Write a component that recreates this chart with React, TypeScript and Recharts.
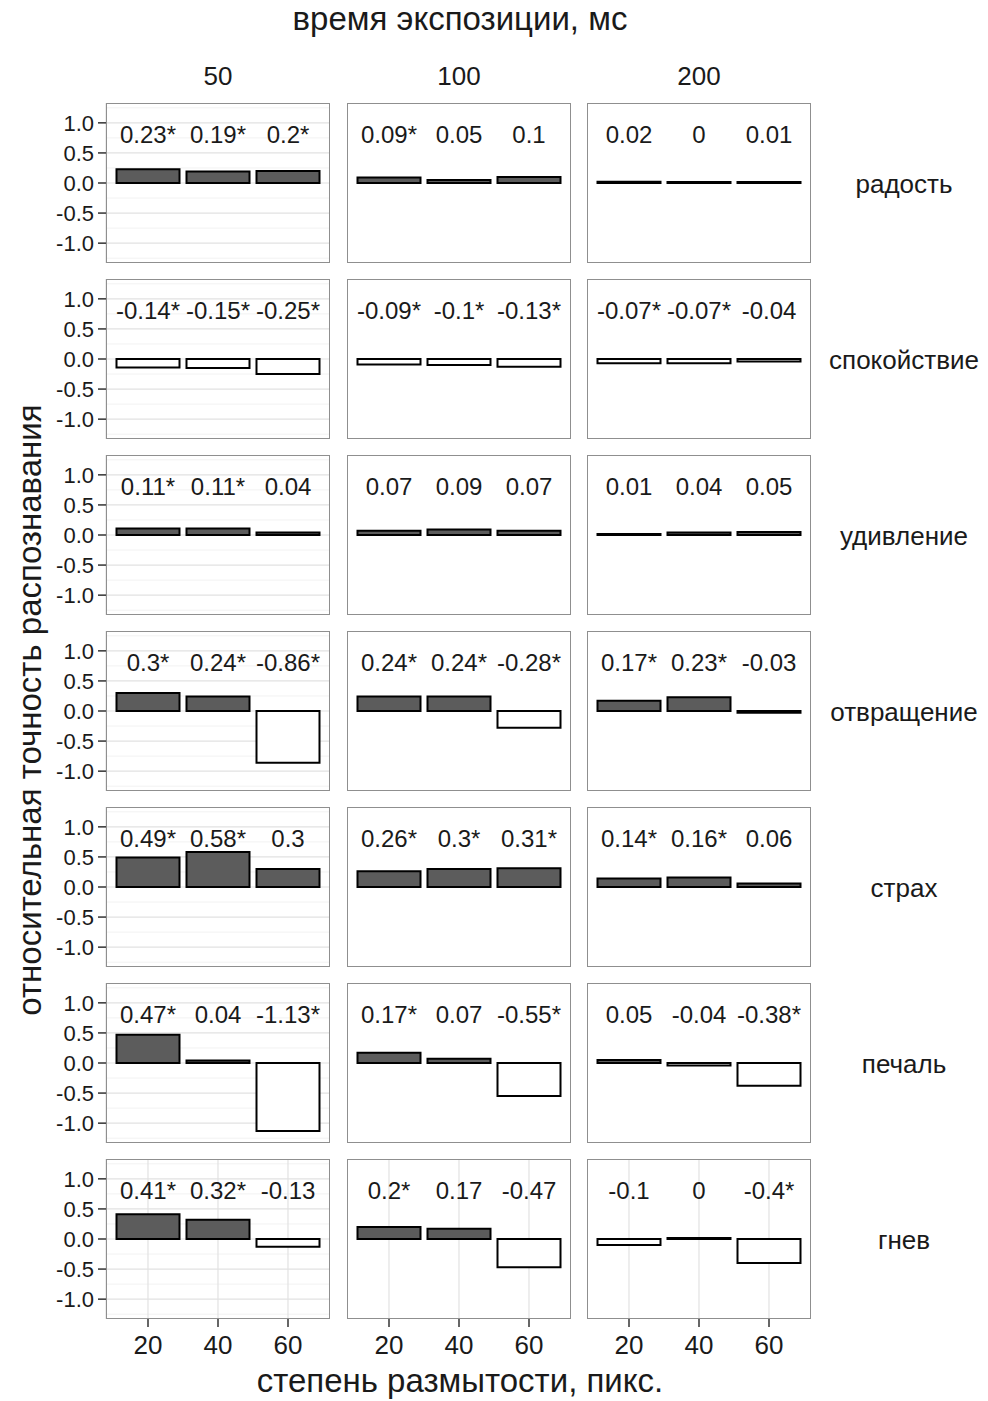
import React from "react";
import { BarChart, Bar, XAxis, YAxis, CartesianGrid, Cell, LabelList } from "recharts";

const emotions = ["радость", "спокойствие", "удивление", "отвращение", "страх", "печаль", "гнев"];
const exposures = ["50", "100", "200"];
const blurLevels = ["20", "40", "60"];

// each emotion: rows = exposure 50 / 100 / 200, cols = blur 20 / 40 / 60
const joy = [[0.23, 0.19, 0.2], [0.09, 0.05, 0.1], [0.02, 0, 0.01]];
const joySig = [[1, 1, 1], [1, 0, 0], [0, 0, 0]];
const calm = [[-0.14, -0.15, -0.25], [-0.09, -0.1, -0.13], [-0.07, -0.07, -0.04]];
const calmSig = [[1, 1, 1], [1, 1, 1], [1, 1, 0]];
const surprise = [[0.11, 0.11, 0.04], [0.07, 0.09, 0.07], [0.01, 0.04, 0.05]];
const surpriseSig = [[1, 1, 0], [0, 0, 0], [0, 0, 0]];
const disgust = [[0.3, 0.24, -0.86], [0.24, 0.24, -0.28], [0.17, 0.23, -0.03]];
const disgustSig = [[1, 1, 1], [1, 1, 1], [1, 1, 0]];
const fear = [[0.49, 0.58, 0.3], [0.26, 0.3, 0.31], [0.14, 0.16, 0.06]];
const fearSig = [[1, 1, 0], [1, 1, 1], [1, 1, 0]];
const sadness = [[0.47, 0.04, -1.13], [0.17, 0.07, -0.55], [0.05, -0.04, -0.38]];
const sadnessSig = [[1, 0, 1], [1, 0, 1], [0, 0, 1]];
const anger = [[0.41, 0.32, -0.13], [0.2, 0.17, -0.47], [-0.1, 0, -0.4]];
const angerSig = [[1, 1, 0], [1, 0, 0], [0, 0, 1]];

const allValues = [joy, calm, surprise, disgust, fear, sadness, anger];
const allSig = [joySig, calmSig, surpriseSig, disgustSig, fearSig, sadnessSig, angerSig];

const yTicks = [-1, -0.5, 0, 0.5, 1];
const yMinor = [-1.25, -0.75, -0.25, 0.25, 0.75, 1.25];

const PW = 224;
const PH = 160;
const YW = 60;
const XH = 48;
const colLeft = [106, 347, 587];
const rowTop = (i: number) => 103 + 176 * i;
const FONT = "'Liberation Sans', Arial, sans-serif";

const renderLabel = (props: any) => {
  const { x, width, value } = props;
  return (
    <text x={x + width / 2} y={31} textAnchor="middle" dominantBaseline="central" fontSize={24} fill="#1a1a1a">
      {value}
    </text>
  );
};

function Panel({ row, col }: { row: number; col: number }) {
  const vals = allValues[row][col];
  const sig = allSig[row][col];
  const data = blurLevels.map((b, k) => ({
    blur: b,
    value: vals[k],
    label: `${vals[k]}${sig[k] ? "*" : ""}`,
  }));
  const showY = col === 0;
  const showX = row === emotions.length - 1;
  const w = PW + (showY ? YW : 0);
  const h = PH + (showX ? XH : 0);
  return (
    <div style={{ position: "absolute", left: colLeft[col] - (showY ? YW : 0), top: rowTop(row) }}>
      <BarChart width={w} height={h} data={data} margin={{ top: 0, right: 0, bottom: 0, left: 0 }} barCategoryGap="5%">
        <CartesianGrid horizontalValues={yMinor} vertical={false} stroke="#f2f2f2" strokeWidth={1} />
        <CartesianGrid horizontalValues={yTicks} stroke="#e2e2e2" strokeWidth={1.2} />
        <XAxis
          dataKey="blur"
          padding={{ left: 7, right: 7 }}
          height={showX ? XH : 0}
          interval={0}
          tick={showX ? { fontSize: 26, fill: "#1a1a1a" } : false}
          tickLine={showX ? { stroke: "#333", strokeWidth: 1.5 } : false}
          axisLine={false}
          tickSize={8}
          tickMargin={9}
        />
        <YAxis
          type="number"
          domain={[-1.33, 1.33]}
          ticks={yTicks}
          interval={0}
          allowDataOverflow
          width={showY ? YW : 0}
          tick={showY ? { fontSize: 22, fill: "#1a1a1a" } : false}
          tickLine={showY ? { stroke: "#333", strokeWidth: 1.5 } : false}
          axisLine={false}
          tickSize={8}
          tickMargin={4}
          tickFormatter={(v: number) => v.toFixed(1)}
        />
        <Bar dataKey="value" isAnimationActive={false} minPointSize={1}>
          {data.map((d, i) => (
            <Cell key={i} fill={d.value > 0 ? "#5c5c5c" : "#ffffff"} stroke="#000" strokeWidth={2} />
          ))}
          <LabelList dataKey="label" content={renderLabel} />
        </Bar>
      </BarChart>
      <div
        style={{
          position: "absolute",
          left: showY ? YW : 0,
          top: 0,
          width: PW,
          height: PH,
          border: "1.5px solid #8f8f8f",
          boxSizing: "border-box",
          pointerEvents: "none",
        }}
      />
    </div>
  );
}

export default function App() {
  return (
    <div style={{ position: "relative", width: 988, height: 1401, background: "#fff", fontFamily: FONT, color: "#1a1a1a" }}>
      <style>{`body{margin:0}`}</style>
      <div style={{ position: "absolute", left: 0, width: 920, top: 0, textAlign: "center", fontSize: 33 }}>
        время экспозиции, мс
      </div>
      {exposures.map((e, c) => (
        <div
          key={e}
          style={{ position: "absolute", left: colLeft[c], width: PW, top: 61, textAlign: "center", fontSize: 26 }}
        >
          {e}
        </div>
      ))}
      {emotions.map((em, r) => (
        <div
          key={em}
          style={{ position: "absolute", left: 819, width: 170, top: rowTop(r) + 66, textAlign: "center", fontSize: 26 }}
        >
          {em}
        </div>
      ))}
      {emotions.map((em, r) => exposures.map((ex, c) => <Panel key={em + ex} row={r} col={c} />))}
      <div
        style={{
          position: "absolute",
          left: 30,
          top: 710,
          transform: "translate(-50%, -50%) rotate(-90deg)",
          whiteSpace: "nowrap",
          fontSize: 33,
        }}
      >
        относительная точность распознавания
      </div>
      <div style={{ position: "absolute", left: 0, width: 920, top: 1362, textAlign: "center", fontSize: 33 }}>
        степень размытости, пикс.
      </div>
    </div>
  );
}
